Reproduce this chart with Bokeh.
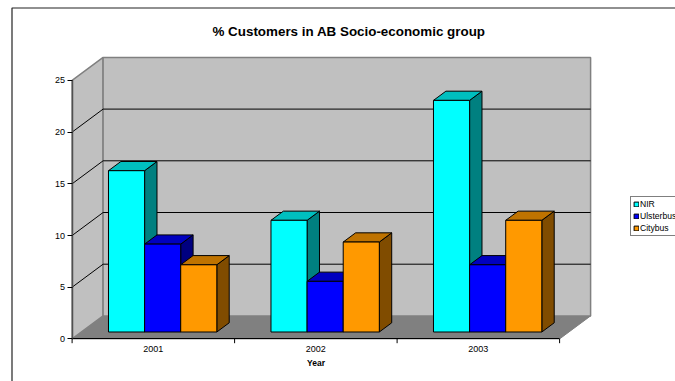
from bokeh.embed import file_html
from bokeh.resources import INLINE
from bokeh.plotting import figure
from bokeh.models import FixedTicker, Legend, LegendItem, LinearAxis, Range1d
from bokeh.core.properties import value

# Chart data
years = ["2001", "2002", "2003"]
series_names = ["NIR", "Ulsterbus", "Citybus"]
nir = [15.6, 10.8, 22.4]
ulsterbus = [8.5, 4.9, 6.5]
citybus = [6.5, 8.7, 10.8]
y_ticks = [0, 5, 10, 15, 20, 25]
chart_title = "% Customers in AB Socio-economic group"
x_title = "Year"

# Face colours per series: front, top, side
front_colors = ["#00FFFF", "#0000FF", "#FF9900"]
top_colors = ["#00BFBF", "#0000BF", "#BF7300"]
side_colors = ["#008080", "#000080", "#804C00"]

WIDTH, HEIGHT = 675, 381
ORIGIN_X, ORIGIN_Y = 71.6, 338.4     # pixel position of the front-left axis corner
CAT_PX, UNIT_PX = 162.5, 10.34       # pixels per category and per value unit
Y_MAX = y_ticks[-1]
N_CATS = len(years)

# Oblique projection of the plot box, in data units
DEPTH_X, DEPTH_Y = 31.0 / CAT_PX, 23.0 / UNIT_PX
BAR_FRONT, BAR_BACK = 0.30, 0.70     # bar position within the box depth
BAR_W = 1 / 4.5                      # gap of 150 % of a bar
FONT = value("Liberation Sans")


def dx(px):
    return (px - ORIGIN_X) / CAT_PX


def dy(py):
    return (ORIGIN_Y - py) / UNIT_PX


p = figure(
    width=WIDTH, height=HEIGHT, output_backend="svg", toolbar_location=None,
    x_range=Range1d(dx(0), dx(WIDTH)), y_range=Range1d(dy(HEIGHT), dy(0)),
    x_axis_type=None, y_axis_type=None, min_border=0,
    background_fill_color="white", border_fill_color="white",
)
p.outline_line_color = None
p.grid.visible = False

# Outer chart border: top and left edges only
p.line([dx(11.5), dx(11.5), dx(WIDTH + 5)], [dy(HEIGHT + 5), dy(7.5), dy(7.5)],
       line_color="#222222", line_width=1.2)

# Floor, side wall and back wall of the box
p.patch([0, N_CATS, N_CATS + DEPTH_X, DEPTH_X], [0, 0, DEPTH_Y, DEPTH_Y],
        fill_color="#808080", line_color="#808080", line_width=1)
p.patch([0, DEPTH_X, DEPTH_X, 0], [0, DEPTH_Y, Y_MAX + DEPTH_Y, Y_MAX],
        fill_color="#C0C0C0", line_color="#808080", line_width=1.5)
p.patch([DEPTH_X, N_CATS + DEPTH_X, N_CATS + DEPTH_X, DEPTH_X],
        [DEPTH_Y, DEPTH_Y, Y_MAX + DEPTH_Y, Y_MAX + DEPTH_Y],
        fill_color="#C0C0C0", line_color="#808080", line_width=1.5)

# Gridlines run along the side wall and across the back wall
grid_values = [v for v in y_ticks if 0 < v < Y_MAX]
p.multi_line(
    [[0, DEPTH_X, N_CATS + DEPTH_X] for _ in grid_values],
    [[v, v + DEPTH_Y, v + DEPTH_Y] for v in grid_values],
    line_color="black", line_width=1,
)

# Bars, drawn left to right so nearer faces cover their neighbours
legend_items = []
dfx, dfy = BAR_FRONT * DEPTH_X, BAR_FRONT * DEPTH_Y
dbx, dby = BAR_BACK * DEPTH_X, BAR_BACK * DEPTH_Y
for s, values in enumerate([nir, ulsterbus, citybus]):
    lefts = [c + 0.5 - 1.5 * BAR_W + s * BAR_W + dfx for c in range(N_CATS)]
    rights = [x + BAR_W for x in lefts]
    shift_x, shift_y = dbx - dfx, dby - dfy

    p.patches(
        [[r, r + shift_x, r + shift_x, r] for r in rights],
        [[dfy, dby, v + dby, v + dfy] for v in values],
        fill_color=side_colors[s], line_color="black", line_width=1,
    )
    p.patches(
        [[l, l + shift_x, r + shift_x, r] for l, r in zip(lefts, rights)],
        [[v + dfy, v + dby, v + dby, v + dfy] for v in values],
        fill_color=top_colors[s], line_color="black", line_width=1,
    )
    front = p.quad(
        left=lefts, right=rights, bottom=[dfy] * N_CATS,
        top=[v + dfy for v in values],
        fill_color=front_colors[s], line_color="black", line_width=1,
    )
    legend_items.append(LegendItem(label=series_names[s], renderers=[front]))

# Value axis on the front-left edge
y_axis = LinearAxis(
    fixed_location=0, bounds=(0, Y_MAX), ticker=FixedTicker(ticks=y_ticks),
    axis_line_color="#505050", axis_line_width=1.5,
    major_tick_in=0, major_tick_out=5, major_tick_line_color="black",
    minor_tick_line_color=None,
    major_label_text_font="Liberation Sans", major_label_text_font_size="9px",
    major_label_text_color="black", major_label_standoff=2,
)
p.add_layout(y_axis, "left")

# Category axis: ticks sit on the boundaries, year labels between them
tick_len = 4.3 / UNIT_PX
boundaries = list(range(N_CATS + 1))
p.segment(x0=boundaries, y0=[0] * len(boundaries), x1=boundaries,
          y1=[-tick_len] * len(boundaries), line_color="black", line_width=1)

label_positions = [c + 0.5 for c in range(N_CATS)]
x_labels = LinearAxis(
    fixed_location=0, bounds=(0, N_CATS), ticker=FixedTicker(ticks=label_positions),
    major_label_overrides=dict(zip(label_positions, years)),
    axis_line_color="black", axis_line_width=1,
    major_tick_line_color=None, minor_tick_line_color=None,
    major_tick_in=0, major_tick_out=0,
    major_label_text_font="Liberation Sans", major_label_text_font_size="9px",
    major_label_text_color="black", major_label_standoff=7,
    axis_label=x_title, axis_label_text_font="Liberation Sans",
    axis_label_text_font_size="8.5px", axis_label_text_font_style="bold",
    axis_label_text_color="black", axis_label_standoff=3,
)
p.add_layout(x_labels, "below")

# Chart heading
p.text(
    x=[dx(348.5)], y=[dy(31)], text=[chart_title], text_font=FONT,
    text_font_size="13.4px", text_font_style="bold", text_color="black",
    text_align="center", text_baseline="middle",
)

legend = Legend(
    items=legend_items, location=(630, HEIGHT - 236), orientation="vertical",
    border_line_color="black", border_line_width=1.5, background_fill_color="white",
    background_fill_alpha=1, label_text_font="Liberation Sans", label_text_font_size="8.6px",
    label_text_color="black", glyph_width=6, glyph_height=6, spacing=2, padding=2,
    margin=0, label_standoff=1, label_height=9,
)
p.add_layout(legend, "center")

open("out.html", "w").write(file_html(p, INLINE))
